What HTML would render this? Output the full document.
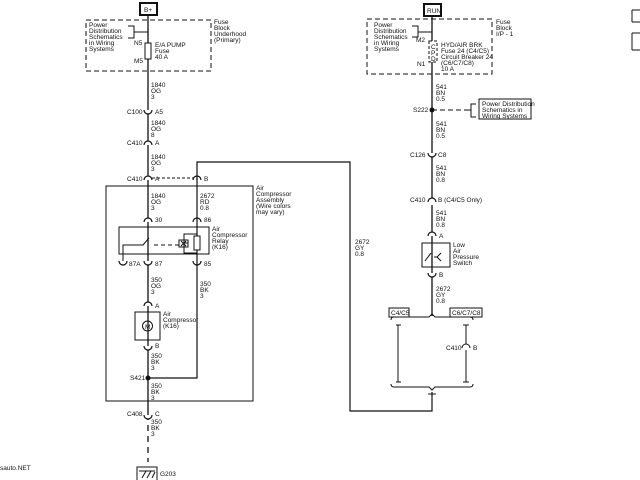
<!DOCTYPE html>
<html><head><style>body{margin:0;background:#fff}svg{display:block}text{font-family:"Liberation Sans",sans-serif;font-size:6.5px;fill:#111}</style></head>
<body>
<svg width="640" height="480" viewBox="0 0 640 480" xmlns="http://www.w3.org/2000/svg">
<g stroke="#111" fill="none" stroke-width="1">
<!-- left top -->
<rect x="140" y="3" width="17" height="12" stroke-width="2"/>
<rect x="86" y="20" width="125" height="51" stroke-dasharray="5,3"/>
<path d="M148 15V420" stroke-width="1.3"/>
<path d="M148 425V462" stroke-dasharray="6,5" stroke-width="1.3"/>
<path d="M128 26h6v12h-6M134 32h14"/>
<rect x="145" y="43" width="6" height="16" fill="#fff"/>
<!-- connector arcs -->
<path d="M144 110a4 4 0 0 0 8 0M144 415a4 4 0 0 0 8 0M144 145a4 4 0 0 1 8 0M144 180a4 4 0 0 1 8 0M193 180a4 4 0 0 1 8 0M144 222a4 4 0 0 1 8 0M193 222a4 4 0 0 1 8 0M119 261a4 4 0 0 0 8 0M144 261a4 4 0 0 0 8 0M193 261a4 4 0 0 0 8 0M144 306a4 4 0 0 1 8 0M144 346a4 4 0 0 0 8 0" fill="#fff" stroke-width="1.2"/>
<path d="M152 178h41" stroke-dasharray="3,2"/>
<path d="M197 180V162H350V411H432V392" stroke-width="1.2"/>
<rect x="106" y="186" width="147" height="215"/>
<rect x="119" y="227" width="90" height="27"/>
<path d="M197 178V378H148" stroke-width="1.2"/>
<path d="M123 261V245h20l6-7"/>
<path d="M154 245h25" stroke-dasharray="4,3"/>
<rect x="179" y="240" width="9" height="7"/><path d="M181 241l5 5M186 241l-5 5"/>
<path d="M188 243h-5M186 234h-2v19h13M186 234h11"/>
<rect x="194" y="236" width="6" height="14" fill="#fff"/>
<rect x="135" y="312" width="25" height="28"/>
<circle cx="147.5" cy="326" r="5"/>
<rect x="137" y="467" width="20" height="14"/><path d="M142 478l4-7M147 478l4-7M152 478l3-6M139 471h16"/>
<!-- right -->
<rect x="424" y="4" width="17" height="12" stroke-width="2"/>
<rect x="367" y="19" width="125" height="55" stroke-dasharray="5,3"/>
<path d="M412 26h6v11h-6M418 32h14"/>
<path d="M432 16V199M432 205V316" stroke-width="1.3"/>
<rect x="429" y="41" width="8" height="21" fill="#fff" stroke-dasharray="3,2"/>
<path d="M432 110h34" stroke-dasharray="5,3"/>
<path d="M476 104h-5v13h5M471 110h-5"/>
<rect x="479" y="99" width="52" height="20"/>
<path d="M428 153a4 4 0 0 0 8 0M428 202a4 4 0 0 1 8 0M428 236a4 4 0 0 1 8 0M428 273a4 4 0 0 0 8 0" fill="#fff" stroke-width="1.2"/>
<rect x="422" y="243" width="28" height="24"/>
<path d="M425 261l6-8M434 257h4M441 253l-4 4l4 4"/>
<rect x="389" y="308" width="20" height="9"/>
<rect x="450" y="308" width="32" height="9"/>
<path d="M391 320q0-3 3-3h35l3-3l3 3h35q3 0 3 3"/>
<path d="M396 325h5M398 325V382M396 382h5M463 325h6M466 325V344M466 350V382M463 382h6"/>
<path d="M462 348a4 4 0 0 1 8 0"/>
<path d="M391 384q0 3 3 3h35l3 3l3-3h35q3 0 3-3M428 394h8"/>
<path d="M632 10h10M632 22h10M632 10v12M632 33h10M632 50h10M632 33v17"/>
</g>
<circle cx="148" cy="378" r="2.5" fill="#111"/>
<circle cx="432" cy="110" r="2.5" fill="#111"/>
<text x="144" y="12">B+</text>
<text x="89" y="27">Power</text><text x="89" y="33">Distribution</text><text x="89" y="39">Schematics</text><text x="89" y="45">in Wiring</text><text x="89" y="51">Systems</text>
<text x="214" y="24">Fuse</text><text x="214" y="30">Block</text><text x="214" y="36">Underhood</text><text x="214" y="42">(Primary)</text>
<text x="134" y="45">N5</text><text x="134" y="63">M5</text>
<text x="155" y="47">E/A PUMP</text><text x="155" y="53">Fuse</text><text x="155" y="59">40 A</text>
<text x="151" y="87">1840</text><text x="151" y="93">OG</text><text x="151" y="99">3</text>
<text x="127" y="114">C100</text><text x="155" y="114">A5</text>
<text x="151" y="125">1840</text><text x="151" y="131">OG</text><text x="151" y="137">8</text>
<text x="127" y="145">C410</text><text x="155" y="145">A</text>
<text x="151" y="159">1840</text><text x="151" y="165">OG</text><text x="151" y="171">3</text>
<text x="127" y="181">C410</text><text x="155" y="181">A</text><text x="204" y="181">B</text>
<text x="151" y="198">1840</text><text x="151" y="204">OG</text><text x="151" y="210">3</text>
<text x="200" y="198">2672</text><text x="200" y="204">RD</text><text x="200" y="210">0.8</text>
<text x="256" y="190">Air</text><text x="256" y="196">Compressor</text><text x="256" y="202">Assembly</text><text x="256" y="208">(Wire colors</text><text x="256" y="214">may vary)</text>
<text x="155" y="222">30</text><text x="204" y="222">86</text>
<text x="212" y="231">Air</text><text x="212" y="237">Compressor</text><text x="212" y="243">Relay</text><text x="212" y="249">(K16)</text>
<text x="129" y="266">87A</text><text x="155" y="266">87</text><text x="204" y="266">85</text>
<text x="151" y="282">350</text><text x="151" y="288">OG</text><text x="151" y="294">3</text>
<text x="200" y="286">350</text><text x="200" y="292">BK</text><text x="200" y="298">3</text>
<text x="155" y="308">A</text><text x="155" y="348">B</text>
<text x="163" y="316">Air</text><text x="163" y="322">Compressor</text><text x="163" y="328">(K16)</text>
<text x="145" y="329" font-size="5">M</text>
<text x="151" y="358">350</text><text x="151" y="364">BK</text><text x="151" y="370">3</text>
<text x="130" y="380">S421</text>
<text x="151" y="388">350</text><text x="151" y="394">BK</text><text x="151" y="400">3</text>
<text x="127" y="416">C408</text><text x="155" y="416">C</text>
<text x="151" y="424">350</text><text x="151" y="430">BK</text><text x="151" y="436">3</text>
<text x="160" y="476">G203</text>
<text x="0" y="470">sauto.NET</text>
<text x="355" y="244">2672</text><text x="355" y="250">GY</text><text x="355" y="256">0.8</text>
<text x="427" y="13">RUN</text>
<text x="374" y="27">Power</text><text x="374" y="33">Distribution</text><text x="374" y="39">Schematics</text><text x="374" y="45">in Wiring</text><text x="374" y="51">Systems</text>
<text x="496" y="24">Fuse</text><text x="496" y="30">Block</text><text x="496" y="36">I/P - 1</text>
<text x="416" y="42">M2</text><text x="417" y="66">N1</text>
<text x="431" y="49" font-size="5">C</text><text x="431" y="55" font-size="5">P</text><text x="431" y="61" font-size="5">D</text>
<text x="441" y="47">HYD/AIR BRK</text><text x="441" y="53">Fuse 24 (C4/C5)</text><text x="441" y="59">Circuit Breaker 24</text><text x="441" y="65">(C6/C7/C8)</text><text x="441" y="71">10 A</text>
<text x="436" y="89">541</text><text x="436" y="95">BN</text><text x="436" y="101">0.5</text>
<text x="413" y="112">S222</text>
<text x="482" y="106">Power Distribution</text><text x="482" y="112">Schematics in</text><text x="482" y="118">Wiring  Systems</text>
<text x="436" y="126">541</text><text x="436" y="132">BN</text><text x="436" y="138">0.5</text>
<text x="410" y="157">C126</text><text x="438" y="157">C8</text>
<text x="436" y="170">541</text><text x="436" y="176">BN</text><text x="436" y="182">0.8</text>
<text x="410" y="202">C410</text><text x="438" y="202">B (C4/C5 Only)</text>
<text x="436" y="215">541</text><text x="436" y="221">BN</text><text x="436" y="227">0.8</text>
<text x="439" y="238">A</text><text x="439" y="277">B</text>
<text x="453" y="247">Low</text><text x="453" y="253">Air</text><text x="453" y="259">Pressure</text><text x="453" y="265">Switch</text>
<text x="436" y="291">2672</text><text x="436" y="297">GY</text><text x="436" y="303">0.8</text>
<text x="391" y="315" font-size="6">C4/C5</text><text x="452" y="315" font-size="6">C6/C7/C8</text>
<text x="446" y="350">C410</text><text x="473" y="350">B</text>
</svg>
</body></html>
